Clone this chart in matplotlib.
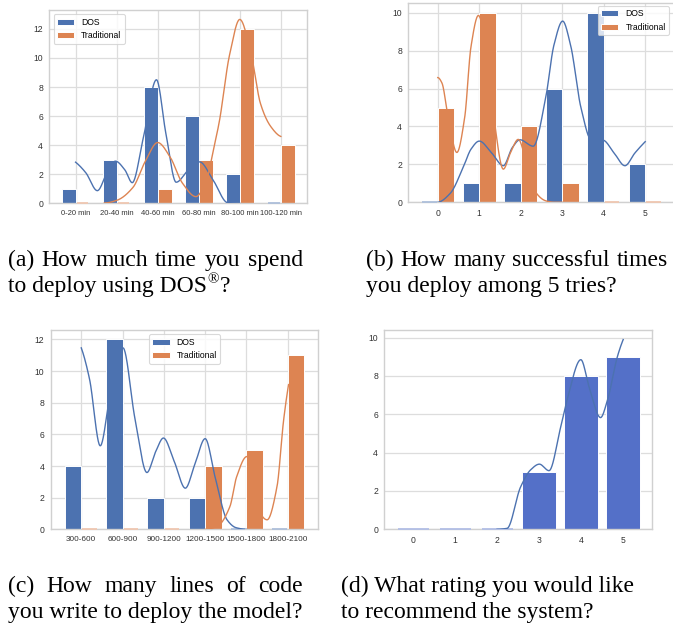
import matplotlib
matplotlib.use('Agg')
import matplotlib.pyplot as plt
import numpy as np

# bar data (counts per category)
a_labels = ['0-20 min', '20-40 min', '40-60 min', '60-80 min', '80-100 min', '100-120 min']
a_dos = [1, 3, 8, 6, 2, 0]
a_trad = [0, 0, 1, 3, 12, 4]

b_labels = ['0', '1', '2', '3', '4', '5']
b_dos = [0, 1, 1, 6, 10, 2]
b_trad = [5, 10, 4, 1, 0, 0]

c_labels = ['300-600', '600-900', '900-1200', '1200-1500', '1500-1800', '1800-2100']
c_dos = [4, 12, 2, 2, 0, 0]
c_trad = [0, 0, 0, 4, 5, 11]

d_labels = ['0', '1', '2', '3', '4', '5']
d_counts = [0, 0, 0, 3, 8, 9]

# smoothed curve knots (x in category units)
a_dos_kx = [0, 0.25, 0.53, 0.78, 0.97, 1.2, 1.38, 1.65, 1.97, 2.2, 2.45, 2.75, 3.02, 3.35, 3.7, 4.0]
a_dos_ky = [2.83, 2.1, 0.87, 2.2, 2.9, 2.3, 1.42, 4.5, 8.5, 4.8, 1.45, 2.3, 2.85, 1.6, 0.05, 0.0]
a_trad_kx = [0.7, 1.0, 1.4, 1.7, 2.0, 2.3, 2.6, 2.93, 3.2, 3.35, 3.5, 3.75, 4.0, 4.3, 4.5, 4.75, 5.0]
a_trad_ky = [0.02, 0.2, 1.1, 2.9, 4.18, 3.2, 1.4, 0.46, 1.7, 3.6, 5.6, 10.2, 12.65, 9.9, 6.9, 5.3, 4.6]

b_dos_kx = [0, 0.3, 0.62, 0.8, 1.0, 1.3, 1.58, 1.8, 1.98, 2.3, 2.6, 2.8, 3.01, 3.2, 3.45, 3.7, 3.98, 4.25, 4.51, 4.75, 5.0]
b_dos_ky = [0, 0.47, 1.88, 2.8, 3.23, 2.6, 1.93, 2.9, 3.3, 2.96, 5.5, 8.3, 9.56, 8.3, 5.0, 3.3, 3.28, 2.6, 1.93, 2.6, 3.2]
b_trad_kx = [0, 0.1, 0.25, 0.46, 0.65, 0.8, 0.98, 1.15, 1.35, 1.58, 1.75, 1.94, 2.15, 2.38, 2.6, 2.8, 3.0]
b_trad_ky = [6.58, 6.3, 4.5, 2.63, 4.5, 8.2, 9.86, 8.3, 4.5, 1.75, 2.6, 3.32, 2.0, 0.47, 0.08, 0.0, 0.0]

c_dos_kx = [0, 0.2, 0.46, 0.7, 1.01, 1.3, 1.59, 1.8, 1.99, 2.25, 2.52, 2.75, 3.0, 3.25, 3.53, 3.75, 4.0]
c_dos_ky = [11.47, 9.5, 5.28, 8.5, 11.47, 7.0, 3.59, 4.9, 5.77, 4.3, 2.6, 4.1, 5.73, 3.2, 0.6, 0.1, 0.0]
c_trad_kx = [3.0, 3.3, 3.6, 3.76, 4.01, 4.25, 4.5, 4.74, 4.9, 5.02]
c_trad_ky = [0.0, 0.2, 1.44, 3.3, 4.6, 1.44, 0.6, 2.7, 6.9, 9.15]

d_kx = [2.0, 2.24, 2.56, 2.8, 3.01, 3.24, 3.52, 3.67, 4.0, 4.2, 4.47, 4.63, 4.87, 5.01]
d_ky = [0.0, 0.05, 2.2, 3.1, 3.4, 3.06, 5.35, 6.74, 8.85, 7.4, 5.83, 6.7, 9.0, 9.9]

BLUE = '#4c72b0'
ORANGE = '#dd8452'
BLUE_D = '#5470c8'
SMALL = 6.2

plt.rcParams['font.family'] = ['Liberation Sans', 'DejaVu Sans']

W, H = 673, 625
fig = plt.figure(figsize=(W / 100, H / 100), dpi=100)


def pchip(xk, yk, xs):
    xk = np.asarray(xk, float)
    yk = np.asarray(yk, float)
    h = np.diff(xk)
    d = np.diff(yk) / h
    n = len(xk)
    m = np.zeros(n)
    for k in range(1, n - 1):
        if d[k - 1] * d[k] > 0:
            w1 = 2 * h[k] + h[k - 1]
            w2 = h[k] + 2 * h[k - 1]
            m[k] = (w1 + w2) / (w1 / d[k - 1] + w2 / d[k])
    for k, (h0, h1, d0, d1) in ((0, (h[0], h[1], d[0], d[1])), (n - 1, (h[-1], h[-2], d[-1], d[-2]))):
        e = ((2 * h0 + h1) * d0 - h0 * d1) / (h0 + h1)
        if np.sign(e) != np.sign(d0):
            e = 0
        elif np.sign(d0) != np.sign(d1) and abs(e) > 3 * abs(d0):
            e = 3 * d0
        m[k] = e
    i = np.clip(np.searchsorted(xk, xs) - 1, 0, n - 2)
    t = (xs - xk[i]) / h[i]
    h00 = 2 * t**3 - 3 * t**2 + 1
    h10 = t**3 - 2 * t**2 + t
    h01 = -2 * t**3 + 3 * t**2
    h11 = t**3 - t**2
    return h00 * yk[i] + h10 * h[i] * m[i] + h01 * yk[i + 1] + h11 * h[i] * m[i + 1]


def curve(ax, kx, ky, color):
    xs = np.linspace(kx[0], kx[-1], 400)
    ax.plot(xs, pchip(kx, ky, xs), color=color, lw=1.0, zorder=4)


def lighten(c, f=0.55):
    rgb = np.array(matplotlib.colors.to_rgb(c))
    return tuple(rgb + (1 - rgb) * f)


def make_axes(l, r, t, b):
    ax = fig.add_axes([l / W, 1 - b / H, (r - l) / W, (b - t) / H])
    ax.set_facecolor('white')
    for s in ax.spines.values():
        s.set_color('#d0d0d0')
        s.set_linewidth(1.0)
    ax.tick_params(length=0, labelsize=SMALL, labelcolor='#333333', pad=4.5)
    ax.set_axisbelow(True)
    return ax


def dodge_bars(ax, labels, dos, trad, w):
    x = np.arange(len(labels))
    ax.bar(x - w, dos, width=w, align='edge', color=BLUE, edgecolor='white', linewidth=0.7, label='DOS', zorder=2)
    ax.bar(x, trad, width=w, align='edge', color=ORANGE, edgecolor='white', linewidth=0.7, label='Traditional', zorder=2)
    for xi, v in zip(x, dos):
        if v == 0:
            ax.hlines(0, xi - w + 0.03, xi - 0.03, color=lighten(BLUE), lw=1.3, zorder=3, clip_on=False)
    for xi, v in zip(x, trad):
        if v == 0:
            ax.hlines(0, xi + 0.03, xi + w - 0.03, color=lighten(ORANGE), lw=1.3, zorder=3, clip_on=False)
    ax.set_xticks(x)
    ax.set_xticklabels(labels)
    ax.grid(True, color='#dddddd', lw=0.9)


def style_legend(leg):
    leg.get_frame().set_edgecolor('#d0d0d0')
    leg.get_frame().set_linewidth(0.8)


# (a)
ax = make_axes(49.3, 306.7, 10, 203.3)
dodge_bars(ax, a_labels, a_dos, a_trad, 0.34)
curve(ax, a_dos_kx, a_dos_ky, BLUE)
curve(ax, a_trad_kx, a_trad_ky, ORANGE)
ax.set_xlim(-0.64, 5.63)
ax.set_ylim(0, 13.3)
ax.set_yticks(range(0, 13, 2))
ax.tick_params(axis='x', labelsize=5.5)
style_legend(ax.legend(loc='upper left', fontsize=SMALL))

# (b)
ax = make_axes(408.3, 674.7, 3.3, 202.3)
dodge_bars(ax, b_labels, b_dos, b_trad, 0.4)
curve(ax, b_dos_kx, b_dos_ky, BLUE)
curve(ax, b_trad_kx, b_trad_ky, ORANGE)
ax.set_xlim(-0.71, 5.71)
ax.set_ylim(0, 10.5)
ax.set_yticks(range(0, 11, 2))
style_legend(ax.legend(loc='upper right', fontsize=SMALL, bbox_to_anchor=(669 / W, 1 - 6 / H),
                       bbox_transform=fig.transFigure, borderaxespad=0))

# (c)
ax = make_axes(50.7, 318.3, 330, 529.3)
dodge_bars(ax, c_labels, c_dos, c_trad, 0.4)
curve(ax, c_dos_kx, c_dos_ky, BLUE)
curve(ax, c_trad_kx, c_trad_ky, ORANGE)
ax.set_xlim(-0.74, 5.74)
ax.set_ylim(0, 12.6)
ax.set_yticks(range(0, 13, 2))
ax.tick_params(axis='x', labelsize=5.9)
style_legend(ax.legend(loc='upper center', fontsize=SMALL))

# (d)
ax = make_axes(384.3, 651.7, 330, 529.3)
xd = np.arange(len(d_labels))
ax.bar(xd, d_counts, width=0.8, color=BLUE_D, edgecolor='white', linewidth=0.7, zorder=2)
for xi, v in zip(xd, d_counts):
    if v == 0:
        ax.hlines(0, xi - 0.37, xi + 0.37, color=lighten(BLUE_D), lw=1.3, zorder=3, clip_on=False)
curve(ax, d_kx, d_ky, BLUE)
ax.set_xticks(xd)
ax.set_xticklabels(d_labels)
ax.grid(True, axis='y', color='#dddddd', lw=0.9)
ax.set_xlim(-0.69, 5.69)
ax.set_ylim(0, 10.4)
ax.set_yticks(range(0, 11, 2))

# captions
SERIF = ['Liberation Serif', 'DejaVu Serif']
cap = dict(family=SERIF, fontsize=17, color='black', va='baseline')
renderer = fig.canvas.get_renderer()


def justified(text, x0, x1, y):
    words = text.split(' ')
    ts = [fig.text(0, y / H, w_, **cap) for w_ in words]
    widths = [t.get_window_extent(renderer).width for t in ts]
    gap = ((x1 - x0) - sum(widths)) / (len(words) - 1)
    x = x0
    for t, wd in zip(ts, widths):
        t.set_x(x / W)
        x += wd + gap


def plain(text, x0, y):
    return fig.text(x0 / W, y / H, text, **cap)


justified('(a) How much time you spend', 8, 303, H - 266)
t = plain('to deploy using DOS', 8, H - 292)
xr = 8 + t.get_window_extent(renderer).width
reg = fig.text((xr + 0.5) / W, (H - 283) / H, '\u00ae', family=SERIF, fontsize=11, color='black', va='baseline')
xr += reg.get_window_extent(renderer).width + 1
plain('?', xr, H - 292)
justified('(b) How many successful times', 366, 668, H - 266)
plain('you deploy among 5 tries?', 366, H - 292)
justified('(c) How many lines of code', 8, 303, H - 592)
plain('you write to deploy the model?', 8, H - 618)
plain('(d) What rating you would like', 341, H - 592)
plain('to recommend the system?', 341, H - 618)

fig.savefig('out.png', dpi=100)
